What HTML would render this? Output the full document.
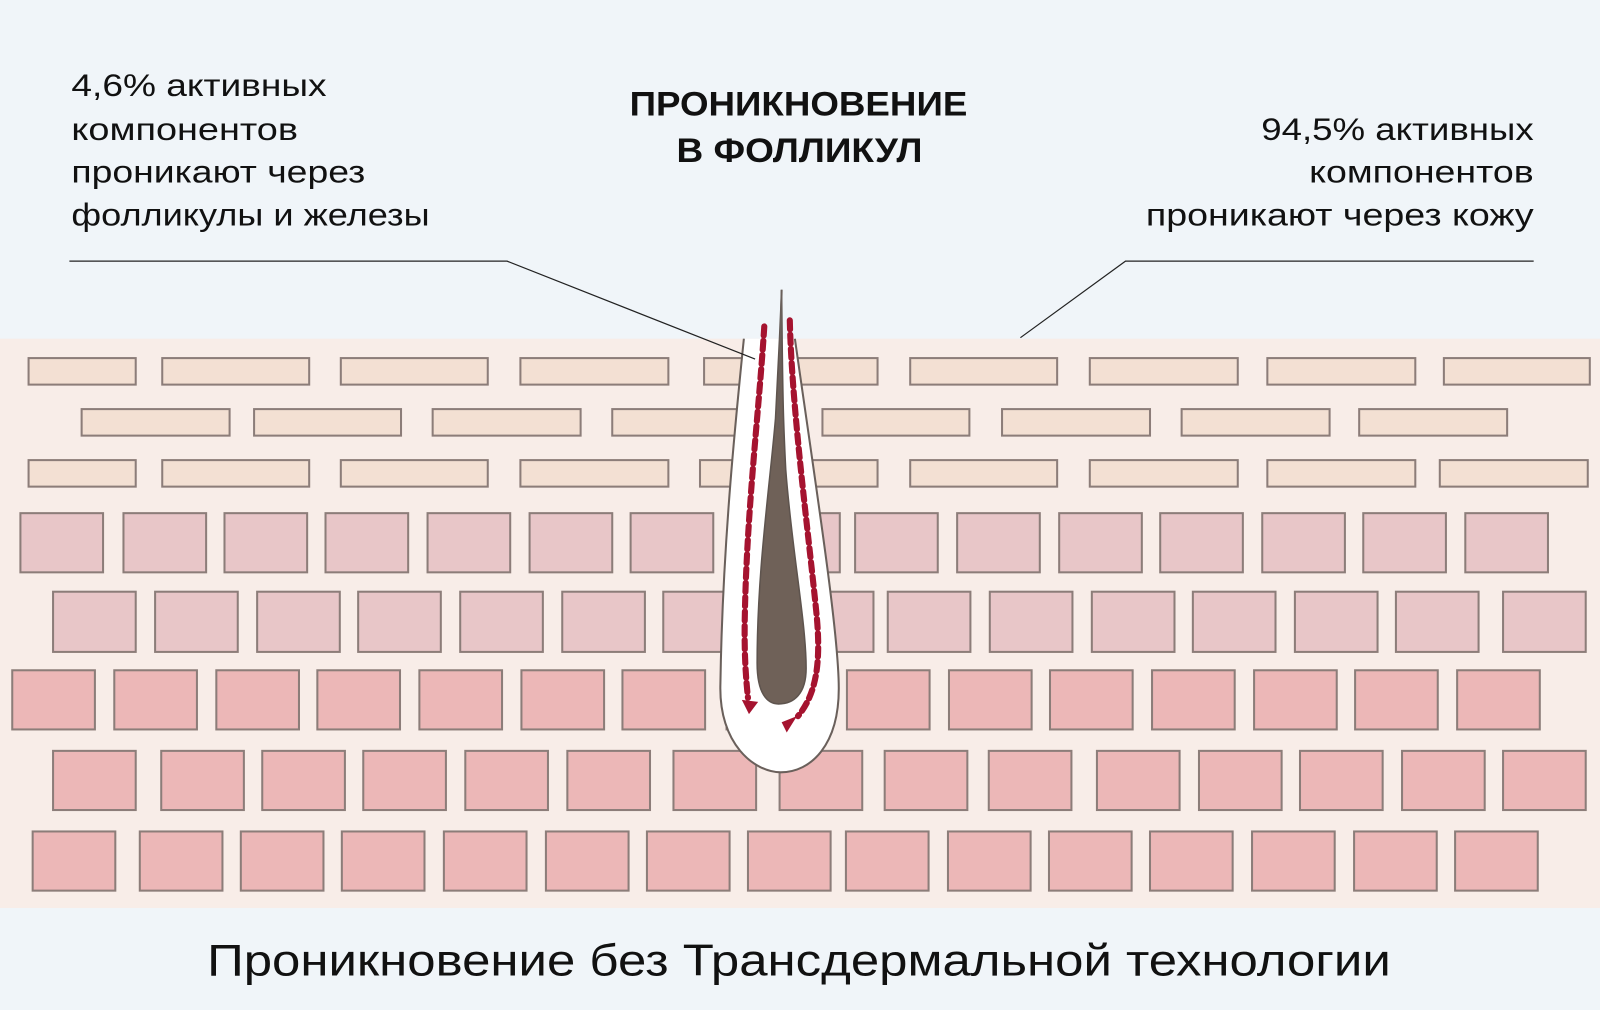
<!DOCTYPE html>
<html><head><meta charset="utf-8"><style>
html,body{margin:0;padding:0;background:#f0f5f9;}
svg{display:block}
text{font-family:"Liberation Sans",sans-serif;fill:#111;}
</style></head><body>
<svg width="1600" height="1010" viewBox="0 0 1568 990" preserveAspectRatio="none" xmlns="http://www.w3.org/2000/svg">
<rect x="0" y="0" width="1568" height="990" fill="#f0f5f9"/>
<rect x="0" y="332" width="1568" height="558" fill="#f8ede8"/>
<g stroke="#8c7d79" stroke-width="2" fill="#f3e0d3">
<rect x="28" y="351" width="105" height="26"/><rect x="159" y="351" width="144" height="26"/><rect x="334" y="351" width="144" height="26"/><rect x="510" y="351" width="145" height="26"/><rect x="690" y="351" width="170" height="26"/><rect x="892" y="351" width="144" height="26"/><rect x="1068" y="351" width="145" height="26"/><rect x="1242" y="351" width="145" height="26"/><rect x="1415" y="351" width="143" height="26"/>
<rect x="80" y="401" width="145" height="26"/><rect x="249" y="401" width="144" height="26"/><rect x="424" y="401" width="145" height="26"/><rect x="600" y="401" width="145" height="26"/><rect x="806" y="401" width="144" height="26"/><rect x="982" y="401" width="145" height="26"/><rect x="1158" y="401" width="145" height="26"/><rect x="1332" y="401" width="145" height="26"/>
<rect x="28" y="451" width="105" height="26"/><rect x="159" y="451" width="144" height="26"/><rect x="334" y="451" width="144" height="26"/><rect x="510" y="451" width="145" height="26"/><rect x="686" y="451" width="174" height="26"/><rect x="892" y="451" width="144" height="26"/><rect x="1068" y="451" width="145" height="26"/><rect x="1242" y="451" width="145" height="26"/><rect x="1411" y="451" width="145" height="26"/>
</g>
<g stroke="#8c7d79" stroke-width="2" fill="#e8c6c8">
<rect x="20" y="503" width="81" height="58"/><rect x="121" y="503" width="81" height="58"/><rect x="220" y="503" width="81" height="58"/><rect x="319" y="503" width="81" height="58"/><rect x="419" y="503" width="81" height="58"/><rect x="519" y="503" width="81" height="58"/><rect x="618" y="503" width="81" height="58"/><rect x="742" y="503" width="81" height="58"/><rect x="838" y="503" width="81" height="58"/><rect x="938" y="503" width="81" height="58"/><rect x="1038" y="503" width="81" height="58"/><rect x="1137" y="503" width="81" height="58"/><rect x="1237" y="503" width="81" height="58"/><rect x="1336" y="503" width="81" height="58"/><rect x="1436" y="503" width="81" height="58"/>
<rect x="52" y="580" width="81" height="59"/><rect x="152" y="580" width="81" height="59"/><rect x="252" y="580" width="81" height="59"/><rect x="351" y="580" width="81" height="59"/><rect x="451" y="580" width="81" height="59"/><rect x="551" y="580" width="81" height="59"/><rect x="650" y="580" width="81" height="59"/><rect x="775" y="580" width="81" height="59"/><rect x="870" y="580" width="81" height="59"/><rect x="970" y="580" width="81" height="59"/><rect x="1070" y="580" width="81" height="59"/><rect x="1169" y="580" width="81" height="59"/><rect x="1269" y="580" width="81" height="59"/><rect x="1368" y="580" width="81" height="59"/><rect x="1473" y="580" width="81" height="59"/>
</g>
<g stroke="#8c7d79" stroke-width="2" fill="#ecb7b7">
<rect x="12" y="657" width="81" height="58"/><rect x="112" y="657" width="81" height="58"/><rect x="212" y="657" width="81" height="58"/><rect x="311" y="657" width="81" height="58"/><rect x="411" y="657" width="81" height="58"/><rect x="511" y="657" width="81" height="58"/><rect x="610" y="657" width="81" height="58"/><rect x="712" y="657" width="81" height="58"/><rect x="830" y="657" width="81" height="58"/><rect x="930" y="657" width="81" height="58"/><rect x="1029" y="657" width="81" height="58"/><rect x="1129" y="657" width="81" height="58"/><rect x="1229" y="657" width="81" height="58"/><rect x="1328" y="657" width="81" height="58"/><rect x="1428" y="657" width="81" height="58"/>
<rect x="52" y="736" width="81" height="58"/><rect x="158" y="736" width="81" height="58"/><rect x="257" y="736" width="81" height="58"/><rect x="356" y="736" width="81" height="58"/><rect x="456" y="736" width="81" height="58"/><rect x="556" y="736" width="81" height="58"/><rect x="660" y="736" width="81" height="58"/><rect x="764" y="736" width="81" height="58"/><rect x="867" y="736" width="81" height="58"/><rect x="969" y="736" width="81" height="58"/><rect x="1075" y="736" width="81" height="58"/><rect x="1175" y="736" width="81" height="58"/><rect x="1274" y="736" width="81" height="58"/><rect x="1374" y="736" width="81" height="58"/><rect x="1473" y="736" width="81" height="58"/>
<rect x="32" y="815" width="81" height="58"/><rect x="137" y="815" width="81" height="58"/><rect x="236" y="815" width="81" height="58"/><rect x="335" y="815" width="81" height="58"/><rect x="435" y="815" width="81" height="58"/><rect x="535" y="815" width="81" height="58"/><rect x="634" y="815" width="81" height="58"/><rect x="733" y="815" width="81" height="58"/><rect x="829" y="815" width="81" height="58"/><rect x="929" y="815" width="81" height="58"/><rect x="1028" y="815" width="81" height="58"/><rect x="1127" y="815" width="81" height="58"/><rect x="1227" y="815" width="81" height="58"/><rect x="1327" y="815" width="81" height="58"/><rect x="1426" y="815" width="81" height="58"/>
</g>
<!-- follicle -->
<path d="M729,332 C720,420 708,540 706,670 C704,730 740,757 765,757 C795,757 822,730 822,675 C822,620 800,480 779,332" fill="#ffffff" stroke="#6a605b" stroke-width="2"/>
<path d="M760,410 C754,480 742,560 742,650 C742,680 752,690 763,690 C778,690 790,680 790,655 C790,610 776,540 770,460 C768,420 767,400 766,284 L764,330 Z" fill="#6f6158" stroke="#5e544e" stroke-width="1.5"/>
<line x1="766" y1="284" x2="763" y2="420" stroke="#6a605b" stroke-width="2"/>
<g fill="none" stroke="#a5132f" stroke-width="6" stroke-dasharray="9 5" stroke-linecap="round">
<path d="M749,320 C744,400 732,500 730,600 C729,640 731,665 733,684"/>
<path d="M774,314 C776,400 792,520 800,600 C805,650 800,680 782,702"/>
</g>
<polygon points="727,686 743,688 734,700" fill="#a5132f"/>
<polygon points="766,708 781,702 771,718" fill="#a5132f"/>
<!-- leader lines -->
<polyline points="68,256 497,256 740,352" fill="none" stroke="#222" stroke-width="1.2"/>
<polyline points="1503,256 1103,256 1000,331" fill="none" stroke="#222" stroke-width="1.2"/>
<!-- text -->
<g font-size="31">
<text x="70" y="94" textLength="250" lengthAdjust="spacingAndGlyphs">4,6% активных</text>
<text x="70" y="137" textLength="222" lengthAdjust="spacingAndGlyphs">компонентов</text>
<text x="70" y="179" textLength="288" lengthAdjust="spacingAndGlyphs">проникают через</text>
<text x="70" y="221" textLength="351" lengthAdjust="spacingAndGlyphs">фолликулы и железы</text>
<text x="1236" y="137" textLength="267" lengthAdjust="spacingAndGlyphs">94,5% активных</text>
<text x="1283" y="179" textLength="220" lengthAdjust="spacingAndGlyphs">компонентов</text>
<text x="1123" y="221" textLength="380" lengthAdjust="spacingAndGlyphs">проникают через кожу</text>
</g>
<text x="617" y="113" font-size="34" font-weight="bold" textLength="331" lengthAdjust="spacingAndGlyphs">ПРОНИКНОВЕНИЕ</text>
<text x="663" y="159" font-size="34" font-weight="bold" textLength="241" lengthAdjust="spacingAndGlyphs">В ФОЛЛИКУЛ</text>
<text x="203" y="956" font-size="44" textLength="1160" lengthAdjust="spacingAndGlyphs">Проникновение без Трансдермальной технологии</text>
</svg>
</body></html>
